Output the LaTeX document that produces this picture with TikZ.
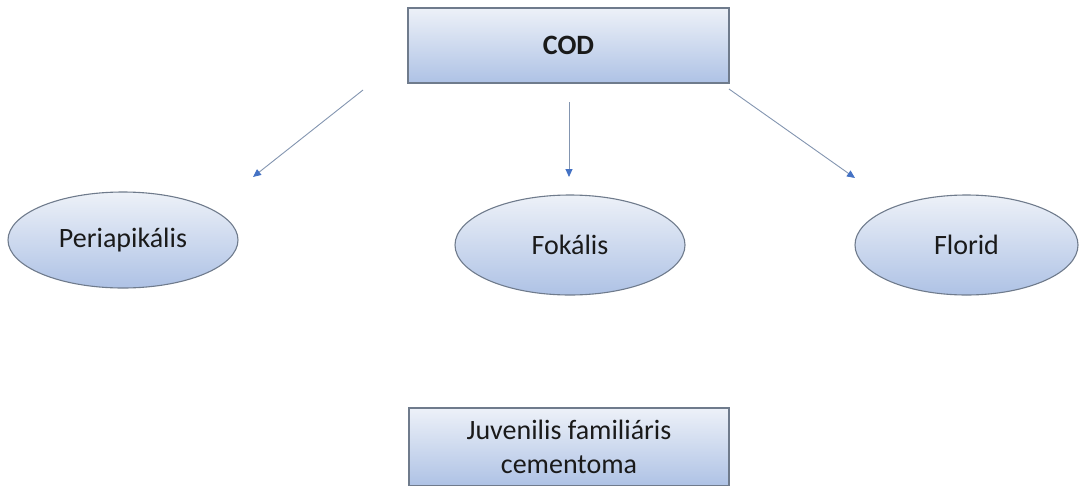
\documentclass[tikz,border=0pt]{standalone}
\usepackage{fontspec}
\setmainfont{Carlito}
\usetikzlibrary{arrows.meta,shapes.geometric}
\definecolor{fillTop}{HTML}{EDF1F8}
\definecolor{fillBot}{HTML}{AEC2E5}
\definecolor{edge}{HTML}{6F7B8C}
\definecolor{shaft}{HTML}{8395B0}
\definecolor{tipblue}{HTML}{4472C4}
\definecolor{ink}{HTML}{1A1A1A}
\tikzset{
  x=1pt, y=-1pt,
  shaded/.style={top color=fillTop, bottom color=fillBot, draw=edge, line width=1.1pt, text=ink},
  rectbox/.style={shaded, rectangle, inner sep=0pt, align=center},
  ovalbox/.style={shaded, ellipse, inner sep=0pt},
  link/.style={draw=shaft, line width=0.9pt, -{Triangle[length=8pt,width=7pt,color=tipblue]}},
  lbl/.style={font=\fontsize{28}{34}\selectfont}
}
\begin{document}
\begin{tikzpicture}
\useasboundingbox (0,0) rectangle (1079,485);
% top box
\node[rectbox, minimum width=321pt, minimum height=75pt, font=\fontsize{28}{34}\selectfont\bfseries] (cod) at (568.5,45.5) {COD};
% three variants
\node[ovalbox, lbl, minimum width=230pt, minimum height=96pt] (peri) at (123,240) {Periapikális};
\node[ovalbox, lbl, minimum width=230pt, minimum height=100pt] (foka) at (570,245) {Fokális};
\node[ovalbox, lbl, minimum width=223pt, minimum height=100pt] (flor) at (966.5,245) {Florid};
% bottom box
\node[rectbox, minimum width=320pt, minimum height=78pt, font=\fontsize{28}{34}\selectfont] (juv) at (569,447) {Juvenilis familiáris\\cementoma};
% arrow ends
\coordinate (aS) at (363,90);
\coordinate (aE) at (253,177);
\coordinate (bS) at (569,102);
\coordinate (bE) at (569,177);
\coordinate (cS) at (729,89);
\coordinate (cE) at (855,178);
\draw[link] (aS) -- (aE);
\draw[link] (bS) -- (bE);
\draw[link] (cS) -- (cE);
\end{tikzpicture}
\end{document}
